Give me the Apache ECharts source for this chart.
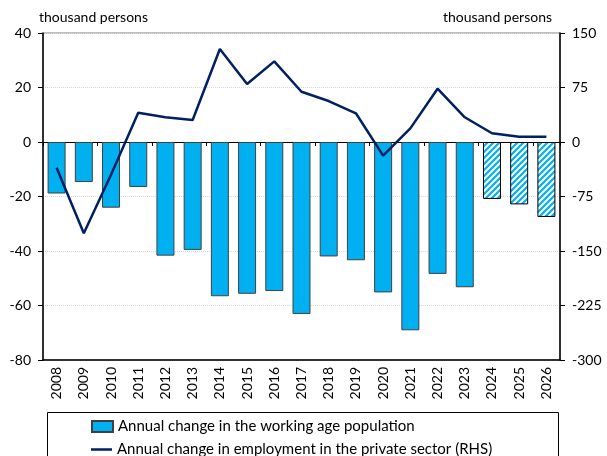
<!DOCTYPE html>
<html>
<head>
<meta charset="utf-8">
<script src="https://cdn.jsdelivr.net/npm/echarts@6/dist/echarts.min.js"></script>
<style>html,body{margin:0;padding:0;background:#fff}#c{width:607px;height:456px}</style>
</head>
<body>
<div id="c"></div>
<script>
const years = ['2008','2009','2010','2011','2012','2013','2014','2015','2016','2017','2018','2019','2020','2021','2022','2023','2024','2025','2026'];
const workingAgePop = [-18.9,-14.7,-24.1,-16.5,-41.7,-39.6,-56.6,-55.7,-54.7,-63.1,-42.0,-43.4,-55.2,-69.1,-48.4,-53.3,-20.9,-22.9,-27.5];
const privateEmployment = [-35.3,-125.7,-45,40.3,34,30.3,128,79.8,111,69.2,56.4,39.5,-18.8,18.8,73.3,34,12,7.3,7.3];
const forecastYears = ['2024','2025','2026'];
const leftTicks = {min:-80, max:40, interval:20};
const rightTicks = {min:-300, max:150, interval:75};
const unitLabel = 'thousand persons';
const seriesNames = ['Annual change in the working age population','Annual change in employment in the private sector (RHS)'];

const FONT = 'Lato';
const CYAN = '#00B0F0';

// hatch pattern
const pc = document.createElement('canvas');
pc.width = 6; pc.height = 6;
const g = pc.getContext('2d');
g.fillStyle = '#fff'; g.fillRect(0,0,6,6);
g.strokeStyle = CYAN; g.lineWidth = 2.2;
g.beginPath();
g.moveTo(-1,7); g.lineTo(7,-1);
g.moveTo(-4,4); g.lineTo(4,-4);
g.moveTo(2,10); g.lineTo(10,2);
g.stroke();

const barData = workingAgePop.map((v,i)=> forecastYears.includes(years[i])
  ? {value:v, itemStyle:{color:{image:pc, repeat:'repeat'}, borderColor:'#000', borderWidth:1}}
  : v);

const legendText = {fontFamily:FONT, fontSize:15, color:'#000'};

const chart = echarts.init(document.getElementById('c'), null, {renderer:'canvas'});
chart.setOption({
  animation:false,
  textStyle:{fontFamily:FONT},
  grid:{left:43, right:47, top:33, bottom:96, show:true, borderColor:'#7f7f7f', borderWidth:1},
  graphic:[{type:'rect', shape:{x:47.5, y:412.5, width:511, height:60}, style:{fill:'none', stroke:'#000', lineWidth:1}, silent:true}],
  legend:[
    {left:86, top:414, itemWidth:21, itemHeight:11, itemGap:0, icon:'rect',
     textStyle:legendText, data:[{name:seriesNames[0]}]},
    {left:86, top:437, itemWidth:21, itemHeight:2.5, itemGap:0, icon:'rect',
     textStyle:legendText, data:[{name:seriesNames[1]}]}
  ],
  xAxis:[
    {type:'category', data:years, axisLine:{onZero:true, lineStyle:{color:'#000', width:1}},
     axisTick:{show:true, length:4, lineStyle:{color:'#000'}}, axisLabel:{show:false}, splitLine:{show:false}},
    {type:'category', data:years, position:'bottom', axisLine:{onZero:false, lineStyle:{color:'#000', width:1.5}},
     axisTick:{show:false}, axisLabel:{rotate:90, fontSize:14, color:'#000', margin:7, fontFamily:FONT}}
  ],
  yAxis:[
    {type:'value', min:leftTicks.min, max:leftTicks.max, interval:leftTicks.interval,
     name:unitLabel, nameLocation:'end', nameGap:9, nameTextStyle:{align:'left', fontSize:14, color:'#000', fontFamily:FONT, padding:[0,0,0,-4]},
     axisLine:{show:true, lineStyle:{color:'#000', width:1.5}}, axisTick:{show:true, length:5, lineStyle:{color:'#000'}},
     axisLabel:{fontSize:14, color:'#000', margin:12, fontFamily:FONT},
     splitLine:{show:true, lineStyle:{color:'#d9d9d9', type:'dotted', width:1}}},
    {type:'value', min:rightTicks.min, max:rightTicks.max, interval:rightTicks.interval, position:'right',
     name:unitLabel, nameLocation:'end', nameGap:9, nameTextStyle:{align:'right', fontSize:14, color:'#000', fontFamily:FONT, padding:[0,8,0,0]},
     axisLine:{show:true, lineStyle:{color:'#000', width:1.5}}, axisTick:{show:true, length:5, lineStyle:{color:'#000'}},
     axisLabel:{fontSize:14, color:'#000', margin:12, fontFamily:FONT},
     splitLine:{show:false}}
  ],
  series:[
    {name:seriesNames[0], type:'bar', xAxisIndex:0, yAxisIndex:0, data:barData, barWidth:18,
     itemStyle:{color:CYAN, borderColor:'#404040', borderWidth:1}},
    {name:seriesNames[1], type:'line', xAxisIndex:0, yAxisIndex:1, data:privateEmployment, symbol:'none', showSymbol:false,
     lineStyle:{color:'#002060', width:2.5}, itemStyle:{color:'#002060'}, z:5}
  ]
});
</script>
</body>
</html>
